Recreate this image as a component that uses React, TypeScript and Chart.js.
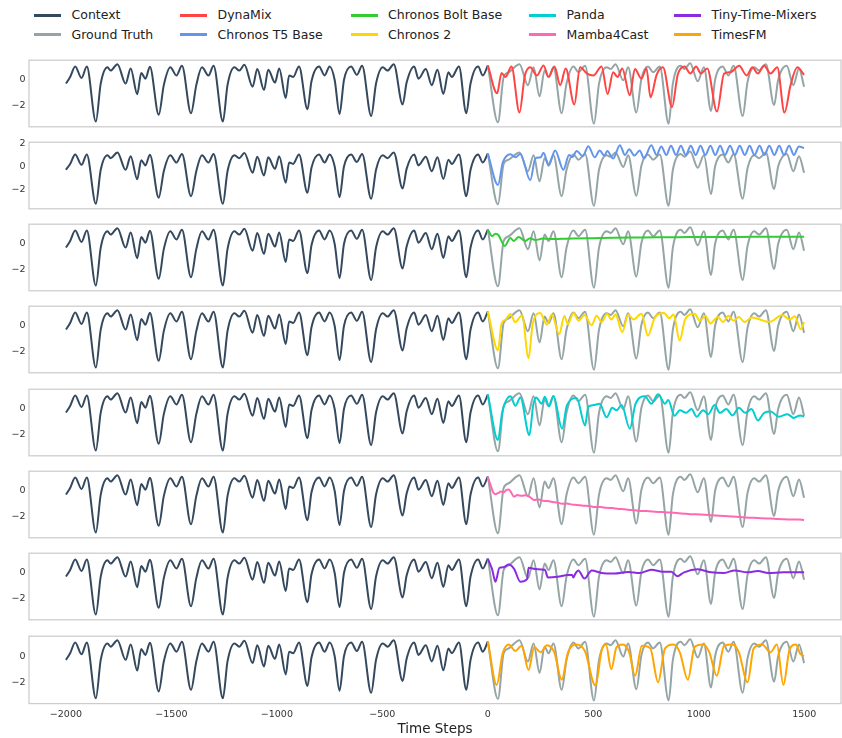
import React, { useEffect, useRef } from "react";
import { Chart, registerables } from "chart.js";
Chart.register(...registerables);

type P = [number, number];

const xTicks = [-2000, -1500, -1000, -500, 0, 500, 1000, 1500];

const context: P[] = [
  [-2000,-0.28],[-1980,0.23],[-1956,1.05],[-1926,0.15],[-1901,1.05],[-1858,-3.23],[-1835,-0.28],[-1803,0.98],[-1788,0.73],[-1756,1.23],
  [-1717,-0.28],[-1693,0.9],[-1662,-1.1],[-1643,0.55],[-1623,0.1],[-1602,1.03],[-1560,-2.7],[-1536,-0.4],[-1505,0.98],[-1476,0.35],
  [-1450,1.1],[-1407,-2.58],[-1382,-0.4],[-1355,0.98],[-1324,0.35],[-1300,1.1],[-1256,-3.23],[-1234,-0.4],[-1201,0.98],[-1178,0.73],
  [-1154,1.18],[-1115,-0.53],[-1093,0.85],[-1061,-0.78],[-1041,0.8],[-1009,-0.2],[-989,0.9],[-958,-1.4],[-942,0.35],[-923,0.23],
  [-895,1.05],[-855,-2.28],[-836,-0.1],[-800,1.05],[-774,0.35],[-750,1.05],[-726,0.0],[-703,-2.65],[-682,0.0],[-648,1.05],
  [-621,0.4],[-596,1.1],[-553,-2.8],[-530,-0.28],[-498,0.98],[-475,0.73],[-446,1.23],[-404,-1.9],[-385,-0.2],[-349,1.05],
  [-329,0.1],[-294,0.85],[-266,-0.4],[-239,0.8],[-211,-1.08],[-187,0.6],[-171,0.23],[-137,1.05],[-102,-2.58],[-82,-0.28],
  [-46,1.05],[-24,0.35],[0,1.13],
];

const groundTruth: P[] = [
  [0,1.13],[48,-3.28],[75,0.23],[99,0.6],[150,1.23],[190,-0.4],[217,0.98],[245,-1.28],[269,0.73],[288,0.23],
  [311,0.98],[350,-2.58],[373,-0.28],[406,1.05],[429,0.6],[461,1.1],[503,-3.4],[527,-0.28],[563,0.98],[583,0.85],
  [605,1.23],[642,-0.03],[665,0.98],[704,-2.53],[728,0.1],[759,1.05],[783,0.6],[815,1.05],[857,-3.4],[877,-0.28],
  [914,1.1],[932,0.85],[959,1.3],[995,-0.1],[1024,0.98],[1058,-2.4],[1077,0.0],[1113,1.05],[1140,0.35],[1165,1.1],
  [1208,-2.8],[1231,-0.15],[1263,0.98],[1286,0.73],[1318,1.23],[1357,-1.95],[1376,0.0],[1417,1.1],[1448,-0.4],[1475,0.9],
  [1499,-0.53],
];

const dynaMix: P[] = [
  [0,1.13],[44,-1.03],[65,0.55],[84,0.23],[112,1.05],[150,-2.53],[175,0.3],[201,0.98],[233,0.35],[264,1.13],
  [288,0.23],[316,1.05],[343,-0.4],[369,0.9],[410,-1.9],[437,0.98],[470,0.5],[500,0.35],[539,1.05],[568,-1.1],
  [594,0.6],[615,0.23],[637,0.9],[673,-1.2],[697,0.85],[728,0.1],[752,0.9],[771,-1.35],[800,0.4],[830,0.98],
  [873,-2.1],[900,0.4],[932,1.05],[960,0.5],[987,1.05],[1010,0.5],[1040,0.9],[1086,-2.45],[1120,0.5],[1150,0.6],
  [1191,1.1],[1227,0.35],[1254,0.98],[1280,0.5],[1309,1.13],[1340,0.5],[1372,0.98],[1406,-2.53],[1435,-0.4],[1467,0.98],
  [1499,0.4],
];

const chronosT5: P[] = [
  [0,1.13],[48,-1.6],[71,0.36],[107,1.07],[131,0.8],[154,1.1],[201,-1.18],[225,0.7],[250,0.8],[264,1.2],
  [288,0.08],[319,1.4],[358,-0.28],[385,1.0],[400,0.8],[421,1.35],[450,0.9],[476,1.77],[507,0.8],[530,1.4],
  [552,0.95],[566,1.35],[594,0.7],[626,1.85],[650,1.0],[670,1.5],[695,0.95],[720,1.4],[740,0.7],[775,1.85],
  [800,1.0],[822,1.75],[846,1.0],[868,1.8],[892,1.0],[915,1.8],[938,1.0],[962,1.8],[985,1.0],[1008,1.8],
  [1031,1.0],[1055,1.8],[1078,1.0],[1101,1.8],[1124,1.0],[1148,1.8],[1171,1.0],[1194,1.8],[1218,1.0],[1241,1.8],
  [1264,1.0],[1288,1.8],[1311,1.0],[1334,1.8],[1358,1.0],[1381,1.8],[1404,1.0],[1428,1.8],[1451,1.0],[1474,1.75],
  [1499,1.6],
];

const chronosBolt: P[] = [
  [0,1.13],[20,0.6],[36,0.8],[50,0.7],[80,-0.15],[107,0.47],[123,0.23],[146,0.55],[178,0.23],[200,0.45],
  [225,0.3],[260,0.42],[300,0.38],[350,0.4],[400,0.42],[500,0.45],[600,0.48],[700,0.5],[800,0.52],[900,0.53],
  [1000,0.54],[1100,0.55],[1200,0.55],[1300,0.56],[1400,0.56],[1499,0.57],
];

const chronos2: P[] = [
  [0,1.13],[48,-1.88],[65,0.18],[85,0.5],[107,0.93],[130,0.3],[162,0.83],[193,-2.5],[212,0.1],[248,1.0],
  [280,0.1],[303,0.9],[338,-0.63],[363,0.78],[379,0.15],[406,1.0],[430,0.4],[458,0.85],[492,0.05],[515,0.8],
  [540,0.3],[565,0.95],[585,0.5],[605,0.9],[637,-0.48],[665,0.9],[690,0.5],[728,0.95],[759,-0.75],[790,0.6],
  [835,1.0],[860,0.6],[880,0.9],[909,-1.13],[935,0.5],[980,0.95],[1005,0.4],[1030,0.8],[1055,0.2],[1090,0.7],
  [1115,0.3],[1140,0.8],[1165,0.4],[1190,0.7],[1216,0.3],[1250,0.65],[1290,0.5],[1334,0.3],[1397,0.85],[1430,0.5],
  [1455,0.75],[1483,-0.25],[1499,0.3],
];

const panda: P[] = [
  [0,1.13],[48,-2.4],[68,-0.28],[107,0.98],[131,0.25],[154,0.9],[197,-2.03],[215,0.3],[229,0.9],[255,0.4],
  [270,0.95],[290,0.2],[311,1.0],[352,-1.53],[375,0.3],[421,0.85],[461,-1.28],[476,0.18],[500,0.3],[530,0.4],
  [563,-0.65],[590,0.1],[610,-0.1],[634,0.3],[673,-1.53],[700,0.4],[744,0.98],[775,0.4],[807,1.15],[840,0.4],
  [855,0.7],[885,-0.53],[910,-0.1],[940,-0.3],[965,0.0],[990,-0.6],[1020,-0.1],[1045,-0.4],[1075,0.3],[1100,-0.3],
  [1130,0.0],[1160,-0.5],[1190,0.1],[1220,-0.3],[1250,0.0],[1280,-0.9],[1310,-0.3],[1340,-0.2],[1380,-0.6],[1420,-0.4],
  [1450,-0.7],[1480,-0.5],[1499,-0.6],
];

const mamba4Cast: P[] = [
  [0,1.08],[12,0.5],[25,-0.1],[35,-0.25],[50,-0.15],[62,-0.05],[75,-0.1],[88,0.08],[99,0.12],[110,-0.1],
  [123,-0.43],[140,-0.32],[160,-0.38],[180,-0.33],[193,-0.4],[205,-0.55],[218,-0.7],[240,-0.66],[262,-0.76],[285,-0.78],
  [305,-0.86],[330,-0.9],[352,-1.0],[375,-0.98],[400,-1.06],[425,-1.08],[450,-1.15],[478,-1.16],[508,-1.25],[535,-1.24],
  [560,-1.31],[590,-1.33],[620,-1.4],[645,-1.41],[665,-1.46],[695,-1.5],[720,-1.55],[750,-1.56],[780,-1.6],[825,-1.64],
  [870,-1.68],[915,-1.75],[960,-1.8],[1010,-1.83],[1058,-1.88],[1100,-1.93],[1140,-1.97],[1180,-2.0],[1216,-2.06],[1260,-2.08],
  [1300,-2.12],[1340,-2.14],[1373,-2.18],[1410,-2.2],[1440,-2.22],[1470,-2.21],[1499,-2.25],
];

const tinyTimeMixers: P[] = [
  [0,1.1],[20,0.3],[36,-0.68],[55,0.4],[75,0.45],[99,0.65],[125,0.3],[154,-0.68],[186,-0.48],[193,0.4],
  [230,0.3],[270,0.25],[285,-0.35],[330,-0.3],[380,-0.15],[400,-0.15],[405,-0.35],[415,-0.05],[429,0.2],[458,-0.43],
  [492,0.2],[539,0.0],[600,-0.05],[665,0.08],[720,0.0],[775,0.25],[830,0.1],[870,0.1],[898,-0.25],[930,0.05],
  [995,0.28],[1060,0.05],[1120,0.0],[1170,0.2],[1230,0.05],[1280,0.15],[1330,0.0],[1400,0.05],[1499,0.05],
];

const timesFM: P[] = [
  [0,1.13],[42,-2.2],[70,0.2],[99,0.9],[130,0.4],[160,0.8],[193,-1.05],[220,0.7],[250,0.3],[280,0.85],
  [315,0.3],[350,-1.8],[380,0.3],[420,0.9],[460,0.4],[510,-2.25],[540,0.5],[560,0.9],[585,-1.0],[610,0.7],
  [640,0.9],[670,0.3],[698,-1.5],[730,0.8],[770,0.6],[807,-2.0],[840,0.6],[880,0.9],[910,0.3],[948,-1.8],
  [980,0.7],[1020,0.9],[1050,0.3],[1085,-1.5],[1120,0.8],[1160,0.9],[1190,0.3],[1231,-2.0],[1260,0.6],[1300,0.9],
  [1340,0.3],[1370,0.9],[1401,-2.2],[1430,0.5],[1460,0.9],[1480,0.2],[1499,0.0],
];

const modelNames = ["DynaMix", "Chronos T5 Base", "Chronos Bolt Base", "Chronos 2", "Panda", "Mamba4Cast", "Tiny-Time-Mixers", "TimesFM"];
const modelSeries = [dynaMix, chronosT5, chronosBolt, chronos2, panda, mamba4Cast, tinyTimeMixers, timesFM];
const modelColors = ["#ff4444", "#6495ed", "#32cd32", "#ffd700", "#00ced1", "#ff69b4", "#8a2be2", "#ffa500"];
const contextColor = "#34495e";
const truthColor = "#95a5a6";

const FONT = "'DejaVu Sans', 'Liberation Sans', sans-serif";
const X_MIN = -2175;
const X_MAX = 1674;
const FRAME_TOP0 = 59;
const FRAME_STEP = 82.3;
const FRAME_H = 68.5;

const framePlugin = {
  id: "frame",
  afterDatasetsDraw(chart: any) {
    const { ctx, chartArea } = chart;
    ctx.save();
    ctx.strokeStyle = "#cccccc";
    ctx.lineWidth = 1.25;
    ctx.strokeRect(chartArea.left, chartArea.top, chartArea.right - chartArea.left, chartArea.bottom - chartArea.top);
    ctx.restore();
  },
};

const fmt = (v: number) => String(v).replace("-", "\u2212");

function Panel({ index }: { index: number }) {
  const ref = useRef<HTMLCanvasElement>(null);
  const isLast = index === modelSeries.length - 1;
  const frameTop = FRAME_TOP0 + FRAME_STEP * index;
  const canvasTop = Math.floor(frameTop) - 8;
  const padTop = frameTop - canvasTop;
  const canvasH = isLast ? 738 - canvasTop : 85;
  const padBottom = isLast ? 0 : canvasH - padTop - FRAME_H;

  useEffect(() => {
    const fc = modelSeries[index];
    const vals = [...context, ...groundTruth, ...fc].map((p) => p[1]);
    const lo = Math.min(...vals);
    const hi = Math.max(...vals);
    const pad = (hi - lo) * 0.05;
    const yMin = lo - pad;
    const yMax = hi + pad;
    const yTicks: number[] = [];
    for (let v = Math.ceil(yMin / 2) * 2; v <= yMax; v += 2) yTicks.push(v);
    const toXY = (arr: P[]) => arr.map(([x, y]) => ({ x, y }));
    const line = (data: P[], color: string) => ({
      data: toXY(data),
      borderColor: color,
      backgroundColor: color,
      borderWidth: 2,
      pointRadius: 0,
      fill: false,
      cubicInterpolationMode: "monotone" as const,
    });
    const chart = new Chart(ref.current!, {
      type: "line",
      data: {
        datasets: [line(fc, modelColors[index]), line(groundTruth, truthColor), line(context, contextColor)],
      },
      options: {
        animation: false,
        responsive: false,
        maintainAspectRatio: false,
        events: [],
        layout: { padding: { top: padTop, bottom: padBottom, left: 0, right: 1 } },
        plugins: { legend: { display: false }, tooltip: { enabled: false } },
        scales: {
          x: {
            type: "linear",
            min: X_MIN,
            max: X_MAX,
            display: isLast,
            grid: { display: false, drawTicks: false },
            border: { display: false },
            ticks: {
              color: "#333333",
              font: { family: FONT, size: 9.5 },
              padding: 5,
              maxRotation: 0,
              callback: (v: any) => fmt(v),
            },
            afterBuildTicks: (s: any) => {
              s.ticks = xTicks.map((v) => ({ value: v }));
            },
            afterFit: (s: any) => {
              if (isLast) s.height = canvasH - padTop - FRAME_H;
              else s.height = 0;
            },
            title: {
              display: true,
              text: "Time Steps",
              color: "#222222",
              font: { family: FONT, size: 13.5 },
              padding: { top: 0, bottom: 0 },
            },
          },
          y: {
            type: "linear",
            min: yMin,
            max: yMax,
            grid: { display: false, drawTicks: false },
            border: { display: false },
            ticks: {
              color: "#333333",
              font: { family: FONT, size: 9.5 },
              padding: 3.5,
              callback: (v: any) => fmt(v),
            },
            afterBuildTicks: (s: any) => {
              s.ticks = yTicks.map((v) => ({ value: v }));
            },
            afterFit: (s: any) => {
              s.width = 29;
            },
          },
        },
      },
      plugins: [framePlugin],
    });
    return () => chart.destroy();
  }, []);

  return (
    <canvas
      ref={ref}
      width={842}
      height={canvasH}
      style={{ position: "absolute", left: 0, top: canvasTop, width: 842, height: canvasH }}
    />
  );
}

const legendNames = ["Context", "Ground Truth", ...modelNames];
const legendColors = [contextColor, truthColor, ...modelColors];
const legendColX = [71.5, 217.5, 388, 566.5, 711.5];
const legendRowY = [15, 34.5];

function Legend() {
  return (
    <>
      {legendNames.map((name, i) => {
        const col = Math.floor(i / 2);
        const row = i % 2;
        const x = legendColX[col];
        const y = legendRowY[row];
        return (
          <div key={name}>
            <div
              style={{
                position: "absolute",
                left: x - 37.5,
                top: y - 1.5,
                width: 27,
                height: 3,
                background: legendColors[i],
              }}
            />
            <div
              style={{
                position: "absolute",
                left: x,
                top: y - 9,
                height: 18,
                lineHeight: "18px",
                fontFamily: FONT,
                fontSize: 12.5,
                color: "#222222",
                whiteSpace: "nowrap",
              }}
            >
              {name}
            </div>
          </div>
        );
      })}
    </>
  );
}

export default function App() {
  return (
    <div style={{ position: "absolute", left: 0, top: 0, width: 842, height: 738, background: "#ffffff", overflow: "hidden" }}>
      <Legend />
      {modelSeries.map((_, i) => (
        <Panel key={i} index={i} />
      ))}
    </div>
  );
}
